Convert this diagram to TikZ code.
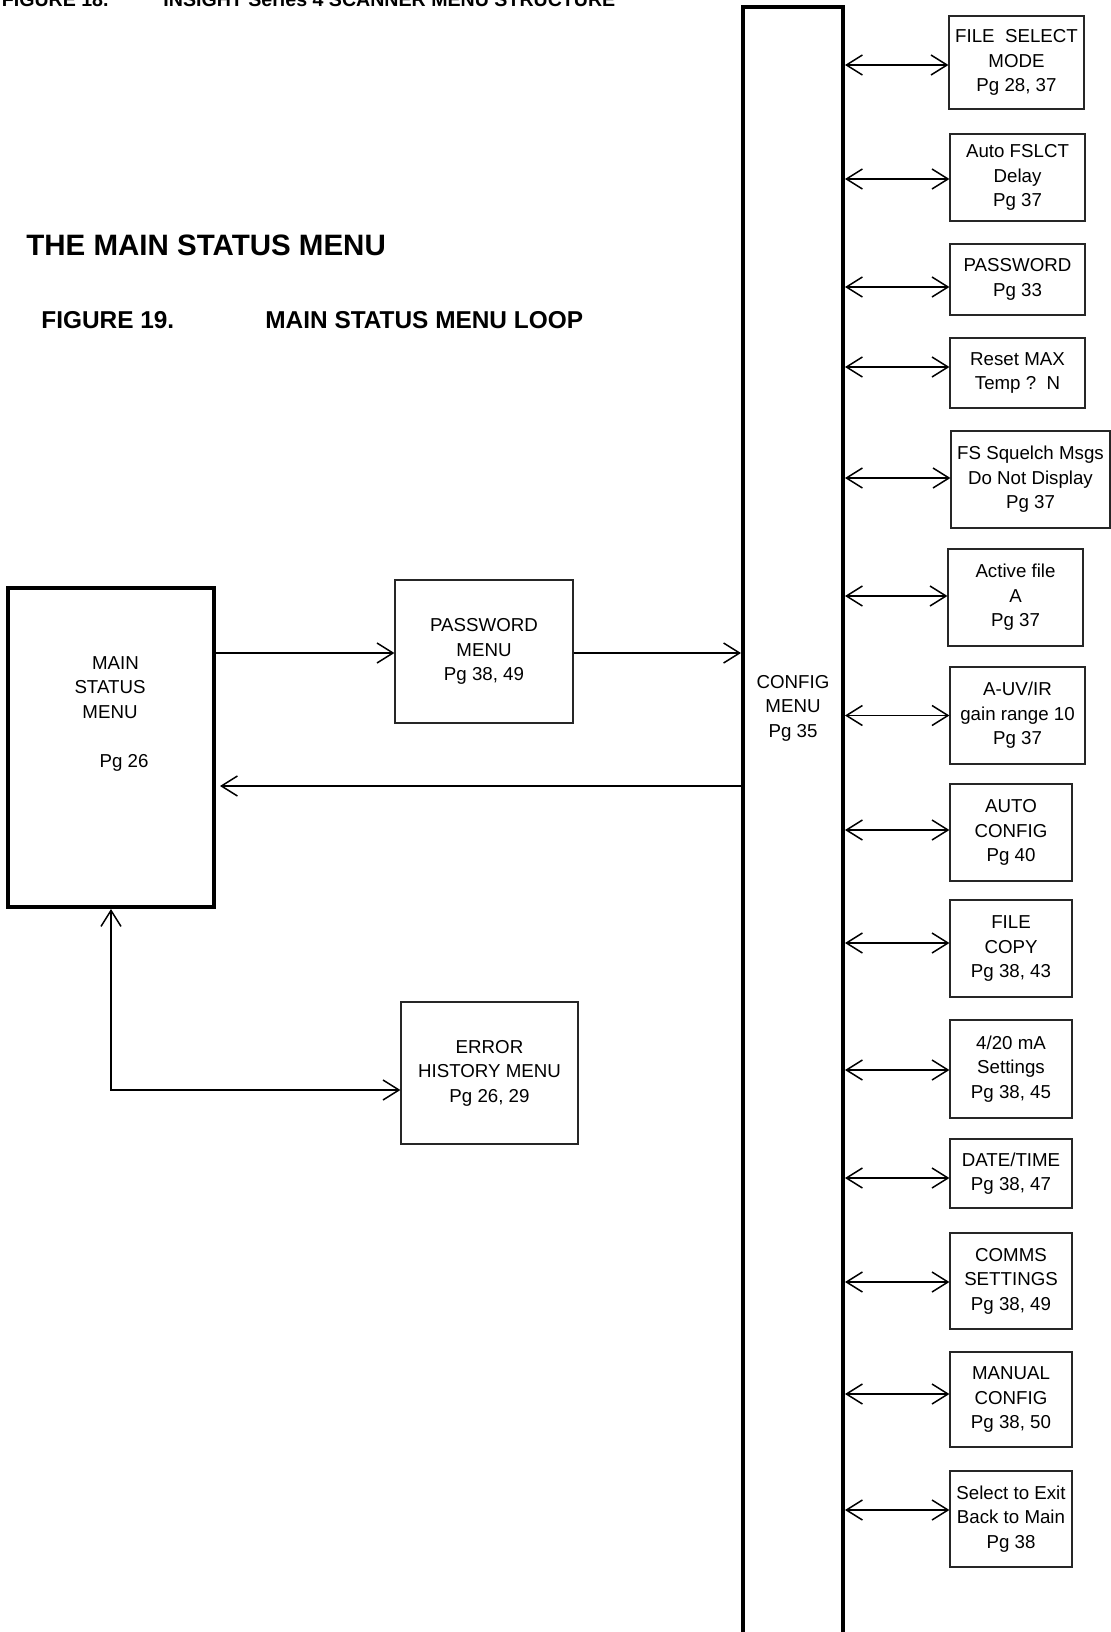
\documentclass[tikz,border=0pt]{standalone}
\usepackage{fontspec}
\setmainfont{Liberation Sans}
\usetikzlibrary{arrows.meta}

\tikzstyle{menu}=[draw=black!85,line width=0.6pt,align=center,inner sep=0pt,
  font=\fontsize{9.35pt}{12.25pt}\selectfont]
\tikzstyle{bigmenu}=[draw=black,line width=2pt,inner sep=0pt]
\tikzstyle{txt}=[align=center,inner sep=0pt,font=\fontsize{9.35pt}{12.25pt}\selectfont]
\tikzstyle{link}=[line width=0.75pt,>={Straight Barb[length=8pt,width=10pt]}]
\tikzstyle{heading}=[anchor=base west,inner sep=0pt,font=\bfseries]

\begin{document}
\begin{tikzpicture}[x=0.5pt,y=-0.5pt]

   \useasboundingbox (0,0) rectangle (1111,1632);

   % Headings

   \node[heading,anchor=base east,font=\bfseries\fontsize{9.8pt}{12pt}\selectfont] (fig18) at (109,7) {FIGURE 18.};
   \node[heading,font=\bfseries\fontsize{9.8pt}{12pt}\selectfont] (fig18t) at (163,7) {INSIGHT Series 4 SCANNER MENU STRUCTURE};
   \node[heading,font=\bfseries\fontsize{14.75pt}{17pt}\selectfont] (title) at (26,255) {THE MAIN STATUS MENU};
   \node[heading,font=\bfseries\fontsize{12.2pt}{14pt}\selectfont] (fig19) at (41,328) {FIGURE 19.};
   \node[heading,font=\bfseries\fontsize{12.2pt}{14pt}\selectfont] (fig19t) at (265,328) {MAIN STATUS MENU LOOP};

   % Main status loop

   \node[bigmenu,minimum width=103pt,minimum height=159.5pt] (main) at (111,747.5) {};
   \node[txt] (maintxt) at (110,714) {\hspace*{5.5pt}MAIN\\STATUS\\MENU\\[12.25pt]\hspace*{14pt}Pg 26};

   \node[menu,minimum width=89pt,minimum height=71.5pt] (pw) at (484,651.5) {PASSWORD\\MENU\\Pg 38, 49};
   \node[menu,minimum width=88.5pt,minimum height=71pt] (err) at (489.5,1073) {ERROR\\HISTORY MENU\\Pg 26, 29};

   \node[bigmenu,minimum width=50pt,minimum height=846.5pt] (cfg) at (793,853.5) {};
   \node[txt] (cfgtxt) at (793,708) {CONFIG\\MENU\\Pg 35};

   \draw[link,->] ([yshift=-0.75pt]main.east |- pw.west) -- ([yshift=-0.75pt]pw.west);
   \draw[link,->] ([yshift=-0.75pt]pw.east) -- ([yshift=-0.75pt]pw.east -| cfg.west);
   \draw[link,->] ([yshift=-19.25pt]main.east -| cfg.west) -- ([yshift=-19.25pt,xshift=2pt]main.east);
   \draw[link,<->] (main.south) |- ([yshift=-8.5pt]err.west);

   % Config sub menus

   \node[menu,minimum width=67.5pt,minimum height=46.5pt] (fsm) at (1016.5,62.5) {FILE\ \ SELECT\\MODE\\Pg 28, 37};
   \node[menu,minimum width=67.5pt,minimum height=43.5pt] (afd) at (1017.5,177.5) {Auto FSLCT\\Delay\\Pg 37};
   \node[menu,minimum width=67.5pt,minimum height=35.5pt] (pwd) at (1017.5,279.5) {PASSWORD\\Pg 33};
   \node[menu,minimum width=67.5pt,minimum height=35pt] (rst) at (1017.5,373) {Reset MAX\\Temp ?\ \ N};
   \node[menu,minimum width=79.5pt,minimum height=48.5pt] (fsq) at (1030.5,479.5) {FS Squelch Msgs\\Do Not Display\\Pg 37};
   \node[menu,minimum width=67.5pt,minimum height=48.5pt] (act) at (1015.5,597.5) {Active file\\A\\Pg 37};
   \node[menu,minimum width=67.5pt,minimum height=48.5pt] (auv) at (1017.5,715.5) {A-UV/IR\\gain range 10\\Pg 37};
   \node[menu,minimum width=61pt,minimum height=48.5pt] (acf) at (1011,832.5) {AUTO\\CONFIG\\Pg 40};
   \node[menu,minimum width=61pt,minimum height=48.5pt] (fcp) at (1011,948.5) {FILE\\COPY\\Pg 38, 43};
   \node[menu,minimum width=61pt,minimum height=49pt] (ma) at (1011,1069) {4/20 mA\\Settings\\Pg 38, 45};
   \node[menu,minimum width=61pt,minimum height=34.5pt] (dt) at (1011,1173.5) {DATE/TIME\\Pg 38, 47};
   \node[menu,minimum width=61pt,minimum height=48pt] (com) at (1011,1281) {COMMS\\SETTINGS\\Pg 38, 49};
   \node[menu,minimum width=61pt,minimum height=47.5pt] (man) at (1011,1399.5) {MANUAL\\CONFIG\\Pg 38, 50};
   \node[menu,minimum width=61pt,minimum height=48pt] (ext) at (1011,1519) {Select to Exit\\Back to Main\\Pg 38};

   \draw[link,<->] ([yshift=-1.25pt]fsm.west -| cfg.east) -- ([yshift=-1.25pt]fsm.west);
   \draw[link,<->] ([yshift=-0.75pt]afd.west -| cfg.east) -- ([yshift=-0.75pt]afd.west);
   \draw[link,<->] ([yshift=-3.75pt]pwd.west -| cfg.east) -- ([yshift=-3.75pt]pwd.west);
   \draw[link,<->] ([yshift=3pt]rst.west -| cfg.east) -- ([yshift=3pt]rst.west);
   \draw[link,<->] ([yshift=0.75pt]fsq.west -| cfg.east) -- ([yshift=0.75pt]fsq.west);
   \draw[link,<->] ([yshift=0.75pt]act.west -| cfg.east) -- ([yshift=0.75pt]act.west);
   \draw[link,<->] (auv.west -| cfg.east) -- (auv.west);
   \draw[link,<->] ([yshift=1.25pt]acf.west -| cfg.east) -- ([yshift=1.25pt]acf.west);
   \draw[link,<->] ([yshift=2.75pt]fcp.west -| cfg.east) -- ([yshift=2.75pt]fcp.west);
   \draw[link,<->] ([yshift=-0.5pt]ma.west -| cfg.east) -- ([yshift=-0.5pt]ma.west);
   \draw[link,<->] ([yshift=-2.25pt]dt.west -| cfg.east) -- ([yshift=-2.25pt]dt.west);
   \draw[link,<->] ([yshift=-0.5pt]com.west -| cfg.east) -- ([yshift=-0.5pt]com.west);
   \draw[link,<->] ([yshift=2.75pt]man.west -| cfg.east) -- ([yshift=2.75pt]man.west);
   \draw[link,<->] ([yshift=4.5pt]ext.west -| cfg.east) -- ([yshift=4.5pt]ext.west);

\end{tikzpicture}
\end{document}
